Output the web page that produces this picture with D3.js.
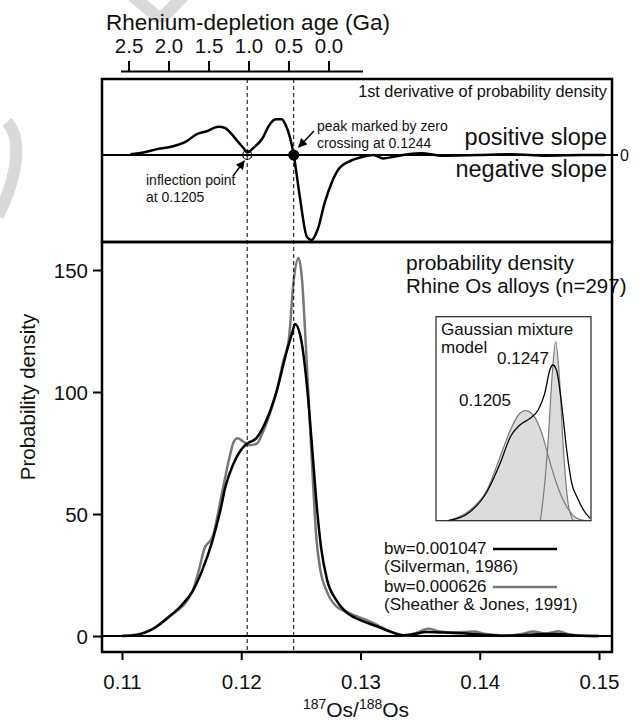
<!DOCTYPE html>
<meta charset="utf-8">
<script src="https://d3js.org/d3.v7.min.js"></script>
<html>
<style>
body { margin: 0; background: #fff; }
svg text { font-family: "Liberation Sans", Arial, sans-serif; fill: #111; }
</style>
<body>
<div id="chart"></div>
<script>
// ---- data ----
// kde, bw=0.001047 (Silverman)
var osBlack = [0.1100, 0.1111, 0.1119, 0.1128, 0.1139, 0.1150, 0.1159, 0.1167, 0.1176, 0.1182, 0.1187, 0.1193,
  0.1199, 0.1204, 0.1213, 0.1221, 0.1230, 0.1238, 0.1243, 0.1245, 0.1250, 0.1255, 0.1259, 0.1263, 0.1267,
  0.1272, 0.1280, 0.1290, 0.1300, 0.1313, 0.1325, 0.1336, 0.1345, 0.1355, 0.1370, 0.1385, 0.1400, 0.1420,
  0.1440, 0.1455, 0.1465, 0.1480, 0.1500];
var densBlack = [0, 0.3, 1.4, 3.5, 7.7, 12.6, 18.2, 26.6, 39.3, 50.5, 61.7, 70.1,
  75.7, 78.5, 81.3, 88.3, 100.9, 116.4, 124.7, 127.9, 122, 103, 80, 55, 36,
  23, 14.5, 9, 6.5, 4.1, 1.8, 0.3, 0.8, 1.6, 1.4, 1.1, 0.6, 0.1,
  0.5, 0.8, 0.8, 0.2, 0];

// kde, bw=0.000626 (Sheather & Jones)
var osGray = [0.1100, 0.1119, 0.1139, 0.1159, 0.1165, 0.1169, 0.1176, 0.1184, 0.1190, 0.1194, 0.1197, 0.1201,
  0.1207, 0.1213, 0.1218, 0.1224, 0.1230, 0.1235, 0.1240, 0.1244, 0.1248, 0.1251, 0.1254, 0.1257, 0.1260,
  0.1263, 0.1266, 0.1272, 0.1280, 0.1290, 0.1300, 0.1310, 0.1320, 0.1330, 0.1338, 0.1348, 0.1357, 0.1365,
  0.1380, 0.1395, 0.1405, 0.1420, 0.1435, 0.1445, 0.1455, 0.1466, 0.1475, 0.1490, 0.1500];
var densGray = [0, 1.4, 7.7, 18.2, 28.0, 35.7, 40.7, 58.9, 72.9, 79.9, 81.0, 79.9,
  78.2, 78.8, 83.4, 91.1, 100.9, 112.2, 122.0, 145.8, 154.9, 145.8, 120.6, 92.5, 64.5,
  40, 28, 18, 12, 9.5, 7.5, 5.5, 3, 1.0, 0.2, 1.5, 3.0, 2.0,
  1.5, 1.8, 0.8, 0.2, 0.8, 1.8, 1.0, 1.9, 0.6, 0.1, 0];

// 1st derivative (relative units, 0 = zero slope)
var osDeriv = [0.1107, 0.1119, 0.1130, 0.1142, 0.1154, 0.1162, 0.1171, 0.1181, 0.1186, 0.1191, 0.1197, 0.1202,
  0.1205, 0.1210, 0.1218, 0.1223, 0.1229, 0.1234, 0.1237, 0.1241, 0.1244, 0.1249, 0.1255, 0.1259, 0.1264,
  0.1270, 0.1276, 0.1282, 0.1290, 0.1302, 0.1311, 0.1319, 0.1328, 0.1340, 0.1351, 0.1369, 0.1398, 0.1427,
  0.1456, 0.1485, 0.1505];
var deriv = [0.7, 2.7, 6.1, 8.5, 13.6, 20.4, 23.8, 28.2, 27.2, 22.1, 13.6, 6.8,
  2.5, 6.8, 17, 28.9, 35.7, 35.7, 30.6, 17, 0, -40.8, -81.6, -85, -74.8,
  -47.6, -27.2, -13.6, -6.8, -1.7, 0, -3.4, -1.7, 0.7, 1.7, -0.7, 0, 0.7,
  -0.7, 0, 0];

// gaussian mixture model inset (relative height)
var osBroad = [0.1100, 0.1130, 0.1153, 0.1171, 0.1185, 0.1196, 0.1205, 0.1216, 0.1228, 0.1237, 0.1248, 0.1262, 0.1276, 0.1287];
var gBroad = [0, 10.7, 30.7, 64, 90.7, 105.7, 110, 105.7, 87.4, 64, 37.4, 14, 2.4, 0];
var osNarrow = [0.1226, 0.1232, 0.1237, 0.1242, 0.1247, 0.1252, 0.1257, 0.1264, 0.1271];
var gNarrow = [0, 37.4, 84, 144, 179, 144, 77.4, 17.4, 0];
var osMix = [0.1100, 0.1130, 0.1153, 0.1171, 0.1185, 0.1198, 0.1212, 0.1223, 0.1232, 0.1239, 0.1243, 0.1248,
  0.1255, 0.1262, 0.1269, 0.1276, 0.1285, 0.1294];
var gMix = [0, 9, 29, 57.4, 84, 95.7, 102.4, 110.7, 127.4, 150.7, 155.7, 150.7,
  117.4, 70.7, 37.4, 24, 10.7, 2.4];

var xTicks = [0.11, 0.12, 0.13, 0.14, 0.15];
var yTicks = [0, 50, 100, 150];
var ageLabels = ["2.5", "2.0", "1.5", "1.0", "0.5", "0.0"];
var ageTickOs = [0.11059, 0.11394, 0.11730, 0.12065, 0.12400, 0.12736];
var markOs = [0.1205, 0.1244];

// ---- layout ----
var W = 641, H = 721;
var left = 102, right = 612, topTop = 79, split = 242, bottom = 652;

var svg = d3.select("#chart").append("svg")
    .attr("width", W)
    .attr("height", H);

var x = d3.scaleLinear().domain([0.11, 0.15]).range([122, 599]);
var y = d3.scaleLinear().domain([0, 150]).range([636, 270]);
var yd = d3.scaleLinear().domain([-87, 76]).range([242, 79]);

function zip(a, b) { return a.map(function (v, i) { return [v, b[i]]; }); }

// faint watermark pieces
svg.append("path")
    .attr("d", "M128,0 L147,0 L160,11 L171,0 L188,0 L167,22 L154,22 Z")
    .attr("fill", "#d9d9d9");
svg.append("path")
    .attr("d", "M7,122 C24,140 16,180 -2,216")
    .attr("fill", "none")
    .attr("stroke", "#d9d9d9")
    .attr("stroke-width", 12);

// ---- top age axis ----
svg.append("text")
    .attr("x", 106).attr("y", 30)
    .style("font-size", "22.5px")
    .text("Rhenium-depletion age (Ga)");

svg.append("line")
    .attr("x1", 121).attr("x2", 363)
    .attr("y1", 71.5).attr("y2", 71.5)
    .attr("stroke", "#000").attr("stroke-width", 2);

var ageG = svg.selectAll(".age").data(ageTickOs).enter().append("g").attr("class", "age");
ageG.append("line")
    .attr("x1", function (d) { return x(d); })
    .attr("x2", function (d) { return x(d); })
    .attr("y1", 61).attr("y2", 72)
    .attr("stroke", "#000").attr("stroke-width", 2);
ageG.append("text")
    .attr("x", function (d) { return x(d); })
    .attr("y", 53)
    .attr("text-anchor", "middle")
    .style("font-size", "20.5px")
    .text(function (d, i) { return ageLabels[i]; });

// ---- top panel: derivative ----
svg.append("line")
    .attr("x1", left).attr("x2", right + 6)
    .attr("y1", yd(0)).attr("y2", yd(0))
    .attr("stroke", "#000").attr("stroke-width", 2);
svg.append("text")
    .attr("x", right + 8).attr("y", yd(0) + 6)
    .style("font-size", "16px")
    .text("0");

var lineD = d3.line()
    .x(function (d) { return x(d[0]); })
    .y(function (d) { return yd(d[1]); })
    .curve(d3.curveMonotoneX);

svg.append("path")
    .datum(zip(osDeriv, deriv))
    .attr("d", lineD)
    .attr("fill", "none")
    .attr("stroke", "#000")
    .attr("stroke-width", 2.5);

svg.append("text")
    .attr("x", 607).attr("y", 97)
    .attr("text-anchor", "end")
    .style("font-size", "16.3px")
    .text("1st derivative of probability density");
svg.append("text")
    .attr("x", 607).attr("y", 145)
    .attr("text-anchor", "end")
    .style("font-size", "23.5px")
    .text("positive slope");
svg.append("text")
    .attr("x", 607).attr("y", 177)
    .attr("text-anchor", "end")
    .style("font-size", "23.5px")
    .text("negative slope");

// annotations
svg.append("defs").append("marker")
    .attr("id", "arr")
    .attr("viewBox", "0 0 10 10")
    .attr("refX", 9).attr("refY", 5)
    .attr("markerWidth", 9).attr("markerHeight", 9)
    .attr("markerUnits", "userSpaceOnUse")
    .attr("orient", "auto")
    .append("path")
    .attr("d", "M0,0 L10,5 L0,10 Z")
    .attr("fill", "#000");

svg.append("line")
    .attr("x1", 314).attr("y1", 131)
    .attr("x2", x(markOs[1]) + 5).attr("y2", yd(0) - 8)
    .attr("stroke", "#000").attr("stroke-width", 1.5)
    .attr("marker-end", "url(#arr)");
svg.append("line")
    .attr("x1", 233).attr("y1", 176)
    .attr("x2", x(markOs[0]) - 3).attr("y2", yd(0) + 6)
    .attr("stroke", "#000").attr("stroke-width", 1.5)
    .attr("marker-end", "url(#arr)");

svg.append("text").attr("x", 317).attr("y", 131).style("font-size", "14px").text("peak marked by zero");
svg.append("text").attr("x", 317).attr("y", 148).style("font-size", "14px").text("crossing at 0.1244");
svg.append("text").attr("x", 146).attr("y", 185).style("font-size", "14px").text("inflection point");
svg.append("text").attr("x", 146).attr("y", 202).style("font-size", "14px").text("at 0.1205");

svg.append("circle")
    .attr("cx", x(markOs[0])).attr("cy", yd(0)).attr("r", 4.5)
    .attr("fill", "none").attr("stroke", "#000").attr("stroke-width", 1.2);
svg.append("circle")
    .attr("cx", x(markOs[1])).attr("cy", yd(0)).attr("r", 5.5)
    .attr("fill", "#000");

// ---- bottom panel: density ----
var lineK = d3.line()
    .x(function (d) { return x(d[0]); })
    .y(function (d) { return y(d[1]); })
    .curve(d3.curveMonotoneX);

// zero line + y axis ticks
svg.append("line")
    .attr("x1", left).attr("x2", right)
    .attr("y1", y(0)).attr("y2", y(0))
    .attr("stroke", "#000").attr("stroke-width", 2);

var yAxis = svg.append("g")
    .attr("transform", "translate(" + left + ",0)")
    .call(d3.axisLeft(y).tickValues(yTicks).tickSize(9).tickPadding(5).tickFormat(d3.format("d")));
yAxis.select(".domain").remove();
yAxis.selectAll("line").attr("stroke-width", 2);
yAxis.selectAll("text").style("font-size", "20.5px").attr("fill", "#111").attr("dy", "0.35em");

var xAxis = svg.append("g")
    .attr("transform", "translate(0," + bottom + ")")
    .call(d3.axisBottom(x).tickValues(xTicks).tickSize(8).tickPadding(14).tickFormat(d3.format(".2f")));
xAxis.select(".domain").remove();
xAxis.selectAll("line").attr("stroke-width", 2);
xAxis.selectAll("text").style("font-size", "20.5px").attr("fill", "#111");

svg.append("path")
    .datum(zip(osGray, densGray))
    .attr("d", lineK)
    .attr("fill", "none")
    .attr("stroke", "#777")
    .attr("stroke-width", 2.5);
svg.append("path")
    .datum(zip(osBlack, densBlack))
    .attr("d", lineK)
    .attr("fill", "none")
    .attr("stroke", "#000")
    .attr("stroke-width", 2.5);

svg.append("text").attr("x", 406).attr("y", 270).style("font-size", "21px").text("probability density");
svg.append("text").attr("x", 406).attr("y", 293).style("font-size", "20.5px").text("Rhine Os alloys (n=297)");

// legend
svg.append("text").attr("x", 384).attr("y", 554).style("font-size", "17px").text("bw=0.001047");
svg.append("text").attr("x", 384).attr("y", 572).style("font-size", "17px").text("(Silverman, 1986)");
svg.append("text").attr("x", 384).attr("y", 592).style("font-size", "17px").text("bw=0.000626");
svg.append("text").attr("x", 384).attr("y", 610).style("font-size", "17px").text("(Sheather & Jones, 1991)");
svg.append("line").attr("x1", 493).attr("x2", 557).attr("y1", 549).attr("y2", 549)
    .attr("stroke", "#000").attr("stroke-width", 2.5);
svg.append("line").attr("x1", 493).attr("x2", 557).attr("y1", 587).attr("y2", 587)
    .attr("stroke", "#777").attr("stroke-width", 2.5);

// ---- inset: gaussian mixture ----
var ix = d3.scaleLinear().domain([0.10832, 0.12953]).range([436, 591]);
var iy = d3.scaleLinear().domain([0, 204]).range([520.7, 316.7]);

svg.append("clipPath").attr("id", "insetclip").append("rect")
    .attr("x", 436).attr("y", 316.7).attr("width", 155).attr("height", 204);

var inset = svg.append("g").attr("clip-path", "url(#insetclip)");
var areaI = d3.area()
    .x(function (d) { return ix(d[0]); })
    .y0(iy(0))
    .y1(function (d) { return iy(d[1]); })
    .curve(d3.curveMonotoneX);
var lineI = d3.line()
    .x(function (d) { return ix(d[0]); })
    .y(function (d) { return iy(d[1]); })
    .curve(d3.curveMonotoneX);

[zip(osBroad, gBroad), zip(osNarrow, gNarrow)].forEach(function (s) {
  inset.append("path").datum(s).attr("d", areaI).attr("fill", "#dcdcdc");
});
[zip(osBroad, gBroad), zip(osNarrow, gNarrow)].forEach(function (s) {
  inset.append("path").datum(s).attr("d", lineI)
      .attr("fill", "none").attr("stroke", "#7a7a7a").attr("stroke-width", 1.2);
});
inset.append("path").datum(zip(osMix, gMix)).attr("d", lineI)
    .attr("fill", "none").attr("stroke", "#000").attr("stroke-width", 1.3);

svg.append("rect")
    .attr("x", 436).attr("y", 316.7).attr("width", 155).attr("height", 204)
    .attr("fill", "none").attr("stroke", "#222").attr("stroke-width", 1.2);

svg.append("text").attr("x", 441).attr("y", 335).style("font-size", "17px").text("Gaussian mixture");
svg.append("text").attr("x", 441).attr("y", 353).style("font-size", "17px").text("model");
svg.append("text").attr("x", 497).attr("y", 364).style("font-size", "17px").text("0.1247");
svg.append("text").attr("x", 459).attr("y", 406).style("font-size", "17px").text("0.1205");

// ---- dashed marker lines ----
svg.selectAll(".mark").data(markOs).enter().append("line")
    .attr("x1", function (d) { return x(d); })
    .attr("x2", function (d) { return x(d); })
    .attr("y1", topTop).attr("y2", bottom)
    .attr("stroke", "#000")
    .attr("stroke-width", 1)
    .attr("stroke-dasharray", "4,3");

// ---- frames ----
svg.append("rect")
    .attr("x", left).attr("y", topTop)
    .attr("width", right - left).attr("height", split - topTop)
    .attr("fill", "none").attr("stroke", "#000").attr("stroke-width", 2.5);
svg.append("rect")
    .attr("x", left).attr("y", split)
    .attr("width", right - left).attr("height", bottom - split)
    .attr("fill", "none").attr("stroke", "#000").attr("stroke-width", 2.5);

// axis titles
svg.append("text")
    .attr("transform", "translate(35,397) rotate(-90)")
    .attr("text-anchor", "middle")
    .style("font-size", "20.5px")
    .text("Probability density");

var xt = svg.append("text")
    .attr("x", 356).attr("y", 717)
    .attr("text-anchor", "middle")
    .style("font-size", "21px");
xt.append("tspan").attr("baseline-shift", "super").style("font-size", "14px").text("187");
xt.append("tspan").text("Os/");
xt.append("tspan").attr("baseline-shift", "super").style("font-size", "14px").text("188");
xt.append("tspan").text("Os");
</script>
</body>
</html>
